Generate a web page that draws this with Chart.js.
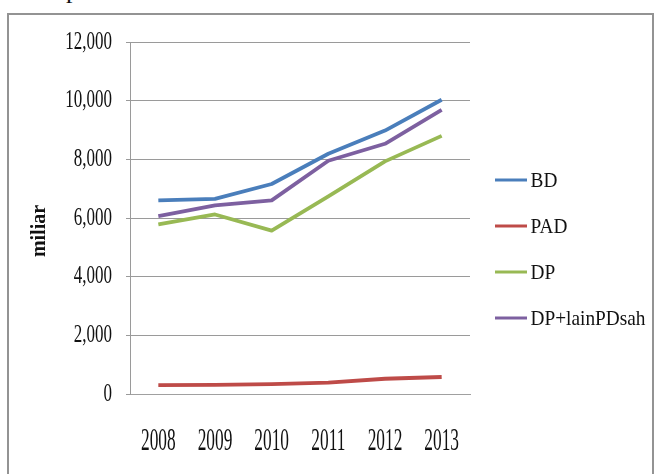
<!DOCTYPE html>
<html>
<head>
<meta charset="utf-8">
<script src="https://cdn.jsdelivr.net/npm/chart.js@4/dist/chart.umd.min.js"></script>
<style>
  html, body { margin: 0; padding: 0; background: #ffffff; }
  #wrap { position: relative; width: 654px; height: 474px; overflow: hidden; background: #ffffff; }
  #chart { position: absolute; left: 0; top: 0; }
  #frame {
    position: absolute; left: 7px; top: 13px; width: 643px; height: 480px;
    border: 2px solid #939393; border-bottom: none; pointer-events: none;
  }
  #cap {
    position: absolute; left: 66px; top: -23px; font: 26px/26px 'Liberation Serif', 'Times New Roman', serif;
    color: #111;
  }
</style>
</head>
<body>
<div id="wrap">
  <div id="cap">p</div>
  <canvas id="chart" width="654" height="474"></canvas>
  <div id="frame"></div>
</div>
<script>
// Years on the category axis
const years = ['2008', '2009', '2010', '2011', '2012', '2013'];

// Series values (miliar)
const bd = [6600, 6650, 7160, 8190, 8980, 10030];
const pad = [300, 310, 340, 390, 520, 580];
const dp = [5780, 6120, 5570, 6740, 7930, 8800];
const dpLain = [6060, 6430, 6600, 7950, 8530, 9690];

// Series names and colours
const seriesNames = ['BD', 'PAD', 'DP', 'DP+lainPDsah'];
const seriesColors = ['#4a7ebb', '#be4b48', '#98b954', '#7d60a0'];

// Value-axis ticks
const yTickValues = [0, 2000, 4000, 6000, 8000, 10000, 12000];

const serif = "'Liberation Serif', 'Times New Roman', serif";
Chart.defaults.font.family = serif;
Chart.defaults.color = '#111';
const withThousands = v => String(v).replace(/\B(?=(\d{3})+(?!\d))/g, ',');

// Per text size: horizontal squeeze and small nudges (narrow Times look)
const textStyle = {
  '25': { k: 0.68, dx: 0, dy: 0 },   // value-axis ticks
  '31': { k: 0.56, dx: 0, dy: 0 },   // year ticks
  '21': { k: 0.92, dx: -7, dy: 1 },  // legend
  '20': { k: 1, dx: -13, dy: 0 }     // axis title (rotated frame)
};
const narrowText = {
  id: 'narrowText',
  beforeInit(chart) {
    const ctx = chart.ctx;
    const baseFill = ctx.fillText;
    ctx.fillText = function (text, x, y, maxWidth) {
      const m = /(\d+(?:\.\d+)?)px/.exec(this.font);
      const s = m ? textStyle[m[1]] : undefined;
      if (!s) return baseFill.call(this, text, x, y, maxWidth);
      this.save();
      this.translate(x + s.dx, y + s.dy);
      this.scale(s.k, 1);
      baseFill.call(this, text, 0, 0);
      this.restore();
    };
  }
};

const series = [bd, pad, dp, dpLain];
const datasets = series.map((values, i) => ({
  label: seriesNames[i],
  data: values,
  borderColor: seriesColors[i],
  backgroundColor: seriesColors[i],
  borderWidth: 3.8,
  pointRadius: 0,
  tension: 0,
  borderJoinStyle: 'round',
  order: series.length - 1 - i
}));

new Chart(document.getElementById('chart'), {
  type: 'line',
  data: { labels: years, datasets },
  plugins: [narrowText],
  options: {
    responsive: false,
    animation: false,
    devicePixelRatio: 1,
    layout: { padding: { top: 42, bottom: 18, left: 0, right: 0 } },
    plugins: {
      tooltip: { enabled: false },
      legend: {
        position: 'right',
        align: 'center',
        maxWidth: 184,
        labels: {
          color: '#111',
          font: { family: 'Liberation Serif', size: 21 },
          boxWidth: 32,
          boxHeight: 3,
          padding: 25,
          sort: (a, b) => a.datasetIndex - b.datasetIndex,
          generateLabels(chart) {
            const items = Chart.defaults.plugins.legend.labels.generateLabels(chart);
            return items.map(it => Object.assign(it, {
              lineWidth: 0,
              fillStyle: seriesColors[it.datasetIndex],
              strokeStyle: seriesColors[it.datasetIndex]
            }));
          }
        }
      }
    },
    scales: {
      x: {
        offset: true,
        grid: { display: false },
        border: { display: true, color: '#a0a0a0', width: 1 },
        ticks: {
          color: '#111', font: { family: serif, size: 31 }, padding: 21,
          maxRotation: 0, minRotation: 0, autoSkip: false
        },
        afterFit(scale) { scale.height = 62; }
      },
      y: {
        min: 0,
        max: 12000,
        afterBuildTicks(scale) { scale.ticks = yTickValues.map(v => ({ value: v })); },
        grid: { color: '#9a9a9a', lineWidth: 1, tickLength: 4 },
        border: { display: true, color: '#9a9a9a', width: 1 },
        ticks: {
          color: '#111',
          font: { family: serif, size: 25 },
          padding: 14,
          callback: v => withThousands(v)
        },
        title: {
          display: true,
          text: 'miliar',
          color: '#111',
          font: { family: serif, size: 20, weight: 'bold' },
          padding: { top: 28, bottom: 0 }
        },
        afterFit(scale) { scale.width = 130; }
      }
    }
  }
});
</script>
</body>
</html>
